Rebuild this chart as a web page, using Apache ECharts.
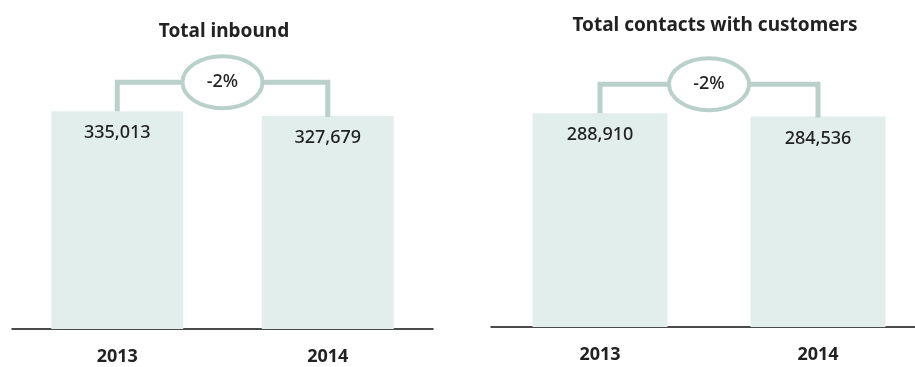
<!DOCTYPE html>
<html>
<head>
<meta charset="utf-8">
<script src="https://cdn.jsdelivr.net/npm/echarts@6/dist/echarts.min.js"></script>
<style>
html, body { margin: 0; padding: 0; background: #fff; }
#main { width: 915px; height: 367px; }
</style>
</head>
<body>
<div id="main"></div>
<script>
var years = ['2013', '2014'];
var inboundValues = [335013, 327679];
var contactsValues = [288910, 284536];
var inboundChange = '-2%';
var contactsChange = '-2%';

var barColor = '#e2eeeb';
var bracketColor = '#b9d0cb';
var fontFam = '"Noto Sans", "DejaVu Sans", sans-serif';

function fmt(v) {
	return v.toLocaleString('en-US');
}

// bracket with the change ellipse, drawn from the two bar tops
function bracket(label) {
	return function (params, api) {
		var p1 = api.coord([0, api.value(0)]);
		var p2 = api.coord([1, api.value(1)]);
		var ly = Math.min(p1[1], p2[1]) - 29;
		var cx = (p1[0] + p2[0]) / 2;
		var rx = 40, ry = 26;
		var line = { stroke: bracketColor, lineWidth: 5, fill: null };
		return {
			type: 'group',
			children: [
				{ type: 'polyline', shape: { points: [[p1[0], p1[1]], [p1[0], ly], [cx - rx, ly]] }, style: line },
				{ type: 'polyline', shape: { points: [[cx + rx, ly], [p2[0], ly], [p2[0], p2[1] + 1]] }, style: line },
				{ type: 'ellipse', shape: { cx: cx, cy: ly, rx: rx, ry: ry }, style: { fill: '#fff', stroke: bracketColor, lineWidth: 4 } },
				{ type: 'text', x: cx, y: ly, style: { text: label, fill: '#222', font: '500 18px ' + fontFam, align: 'center', verticalAlign: 'middle' } }
			]
		};
	};
}

var chart = echarts.init(document.getElementById('main'));
var option = {
	animation: false,
	title: [
		{
			text: 'Total inbound', left: 219, top: 17, textAlign: 'center',
			textStyle: { fontSize: 19, fontWeight: 'bold', color: '#222', fontFamily: fontFam }
		},
		{
			text: 'Total contacts with customers', left: 710, top: 11, textAlign: 'center',
			textStyle: { fontSize: 19, fontWeight: 'bold', color: '#222', fontFamily: fontFam }
		}
	],
	grid: [
		{ left: 12, top: 69, width: 421, height: 260, outerBoundsMode: 'none' },
		{ left: 491, top: 68, width: 436, height: 259, outerBoundsMode: 'none' }
	],
	xAxis: [0, 1].map(function (i) {
		return {
			type: 'category', gridIndex: i, data: years,
			axisLine: { lineStyle: { color: '#111', width: 1.5 } },
			axisTick: { show: false },
			axisLabel: { margin: 19, fontSize: 18, fontWeight: 'bold', color: '#222', fontFamily: fontFam }
		};
	}),
	yAxis: [
		{ type: 'value', gridIndex: 0, min: 0, max: 400000, show: false, splitLine: { show: false } },
		{ type: 'value', gridIndex: 1, min: 0, max: 350000, show: false, splitLine: { show: false } }
	],
	series: [
		{
			type: 'bar', xAxisIndex: 0, yAxisIndex: 0, data: inboundValues, barWidth: 132,
			itemStyle: { color: barColor },
			label: { show: true, position: 'insideTop', distance: 13, formatter: function (p) { return fmt(p.value); },
				fontSize: 18, fontWeight: 500, color: '#222', fontFamily: fontFam }
		},
		{
			type: 'bar', xAxisIndex: 1, yAxisIndex: 1, data: contactsValues, barWidth: 135,
			itemStyle: { color: barColor },
			label: { show: true, position: 'insideTop', distance: 13, formatter: function (p) { return fmt(p.value); },
				fontSize: 18, fontWeight: 500, color: '#222', fontFamily: fontFam }
		},
		{
			type: 'custom', xAxisIndex: 0, yAxisIndex: 0, clip: false, z: 5,
			renderItem: bracket(inboundChange),
			data: [inboundValues]
		},
		{
			type: 'custom', xAxisIndex: 1, yAxisIndex: 1, clip: false, z: 5,
			renderItem: bracket(contactsChange),
			data: [contactsValues]
		}
	]
};
chart.setOption(option);
</script>
</body>
</html>
